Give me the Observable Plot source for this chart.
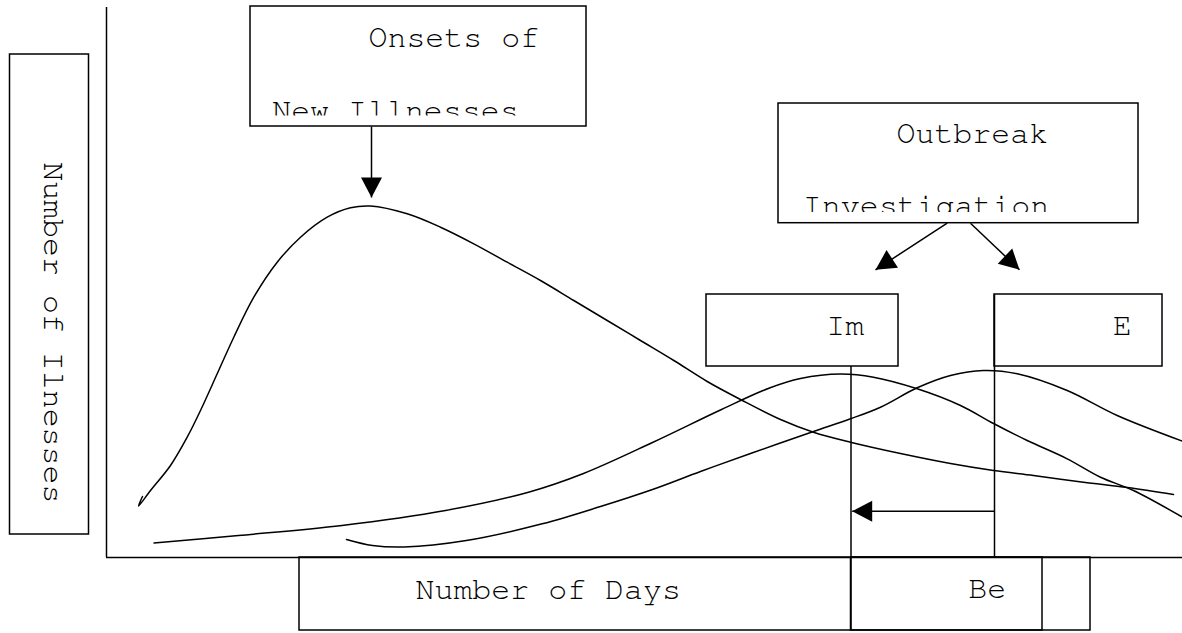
<!DOCTYPE html>
<html><head><meta charset="utf-8">
<script src="https://cdn.jsdelivr.net/npm/d3@7"></script>
<script src="https://cdn.jsdelivr.net/npm/@observablehq/plot@0.6"></script>
<style>
html,body{margin:0;padding:0;background:#fff;}
</style></head><body><div id="chart"></div>
<script>
// Curve 1: onsets of new illnesses (days, number of illnesses)
const onsetDays  = [36, 32, 44, 64, 80.7, 94, 110.7, 127.3, 147.3, 170.7, 194, 220.7, 244, 264, 300.7, 334, 367.3, 400.7, 434, 467.3, 500.7, 534, 567.3, 600.7, 634, 674, 707, 744, 794, 844, 887, 927, 977, 1021, 1067];
const onsetCases = [61, 51.5, 67, 92, 120.3, 147, 183.7, 220.3, 260.3, 295.3, 320.3, 340.3, 349.7, 351.5, 343.7, 330.3, 313.7, 295.3, 277, 257, 237, 217, 197, 176, 158, 138, 125.3, 115.3, 104, 94, 87, 82, 75.3, 70, 63];
// Curve 2: "Im"
const imDays  = [47.5, 132, 235.5, 339, 422, 477, 546, 615, 663, 694, 734, 767, 810.7, 854, 887, 920.7, 960.7, 994, 1027, 1076];
const imCases = [14.5, 22, 32, 47, 65.3, 84, 115, 148, 169.5, 179, 183.5, 180.3, 168.7, 152, 134, 117, 98.7, 80.3, 67, 40.3];
// Curve 3: "E"
const eDays  = [240, 266, 297.7, 359.8, 435.7, 494, 546, 594, 644, 707, 744, 774, 810.7, 844, 877, 910.7, 960.7, 1010.7, 1076];
const eCases = [18, 12, 10.5, 17, 33.7, 51, 68, 86, 104, 126, 138.7, 150.3, 169.7, 182, 187, 183.7, 167, 142, 116.3];

// Annotation boxes
const boxName = ["ylabel", "onsets", "outbreak", "im", "e", "days", "be"];
const boxX1 = [-96.5, 144, 672, 600, 888, 193, 744.5];
const boxX2 = [-17.5, 480, 1032, 792, 1056, 984, 936];
const boxY1 = [23, 431, 334.3, 191, 191, -73, -73];
const boxY2 = [503, 551, 454, 263, 263, 0, 0];

// Clipped lower edge of the two-line boxes
const maskX1 = [145, 673];
const maskX2 = [479, 1031];
const maskY1 = [432, 335];
const maskY2 = [441.5, 345];

// Labels
const labelText = ["Onsets of", "New Illnesses", "Outbreak", "Investigation", "Im", "E", "Number of Days", "Be", "Number of Ilnesses"];
const labelX = [262, 165.7, 790, 696.3, 719.7, 1006.3, 309, 861.7, -62.7];
const labelY = [510.3, 437.5, 414.7, 342.5, 222.7, 223, -41, -40.3, 395.3];
const labelRotate = [0, 0, 0, 0, 0, 0, 0, 0, 90];

// Reference lines
const ruleXAt = [0, 744.5, 888];
const ruleXFrom = [0, -73, 0];
const ruleXTo = [550, 191, 263];

// Arrows
const arrowX1 = [265, 840.7, 864, 888];
const arrowY1 = [431, 334.3, 334.3, 46.3];
const arrowX2 = [265, 769, 913, 745.7];
const arrowY2 = [360, 287.7, 287.7, 46.3];

const mk = (xs, ys) => xs.map((x, i) => ({x, y: ys[i]}));
const boxes = boxName.map((n, i) => ({n, x1: boxX1[i], x2: boxX2[i], y1: boxY1[i], y2: boxY2[i]}));
const masks = maskX1.map((x1, i) => ({x1, x2: maskX2[i], y1: maskY1[i], y2: maskY2[i]}));
const labels = labelText.map((t, i) => ({t, x: labelX[i], y: labelY[i], r: labelRotate[i]}));
const rulesX = ruleXAt.map((x, i) => ({x, y1: ruleXFrom[i], y2: ruleXTo[i]}));
const arrows = arrowX1.map((x1, i) => ({x1, y1: arrowY1[i], x2: arrowX2[i], y2: arrowY2[i],
  angle: Math.atan2(arrowX2[i] - x1, arrowY2[i] - arrowY1[i]) * 180 / Math.PI}));

// filled arrow head with its tip at the origin, pointing up
const head = {draw(ctx) { ctx.moveTo(0, 0); ctx.lineTo(-10.5, 20); ctx.lineTo(10.5, 20); ctx.closePath(); }};

const font = {fontFamily: "'Nimbus Mono PS', 'Nimbus Mono L', FreeMono, 'Liberation Mono', 'Courier New', monospace", fontSize: 31.6, fill: "black", textAnchor: "start", lineAnchor: "bottom"};

const chart = Plot.plot({
  width: 1182, height: 633, margin: 0,
  style: {background: "white"},
  x: {domain: [-106, 1076], range: [0, 1182], axis: null},
  y: {domain: [-76, 557], range: [633, 0], axis: null},
  marks: [
    Plot.line(mk(onsetDays, onsetCases), {x: "x", y: "y", curve: "catmull-rom", stroke: "black", strokeWidth: 1.5}),
    Plot.line(mk(imDays, imCases), {x: "x", y: "y", curve: "catmull-rom", stroke: "black", strokeWidth: 1.5}),
    Plot.line(mk(eDays, eCases), {x: "x", y: "y", curve: "catmull-rom", stroke: "black", strokeWidth: 1.5}),
    Plot.ruleX(rulesX, {x: "x", y1: "y1", y2: "y2", stroke: "black", strokeWidth: 1.5}),
    Plot.ruleY([0], {x1: 0, x2: 1076, stroke: "black", strokeWidth: 1.5}),
    Plot.text(labels, {x: "x", y: "y", text: "t", rotate: "r", ...font}),
    Plot.rect(masks, {x1: "x1", x2: "x2", y1: "y1", y2: "y2", fill: "white"}),
    Plot.rect(boxes, {x1: "x1", x2: "x2", y1: "y1", y2: "y2", fill: "none", stroke: "black", strokeWidth: 1.5}),
    Plot.link(arrows, {x1: "x1", y1: "y1", x2: "x2", y2: "y2", stroke: "black", strokeWidth: 1.5}),
    Plot.dot(arrows, {x: "x2", y: "y2", rotate: "angle", symbol: head, fill: "black", stroke: "none", r: 5})
  ]
});
document.getElementById("chart").append(chart);
</script></body></html>
